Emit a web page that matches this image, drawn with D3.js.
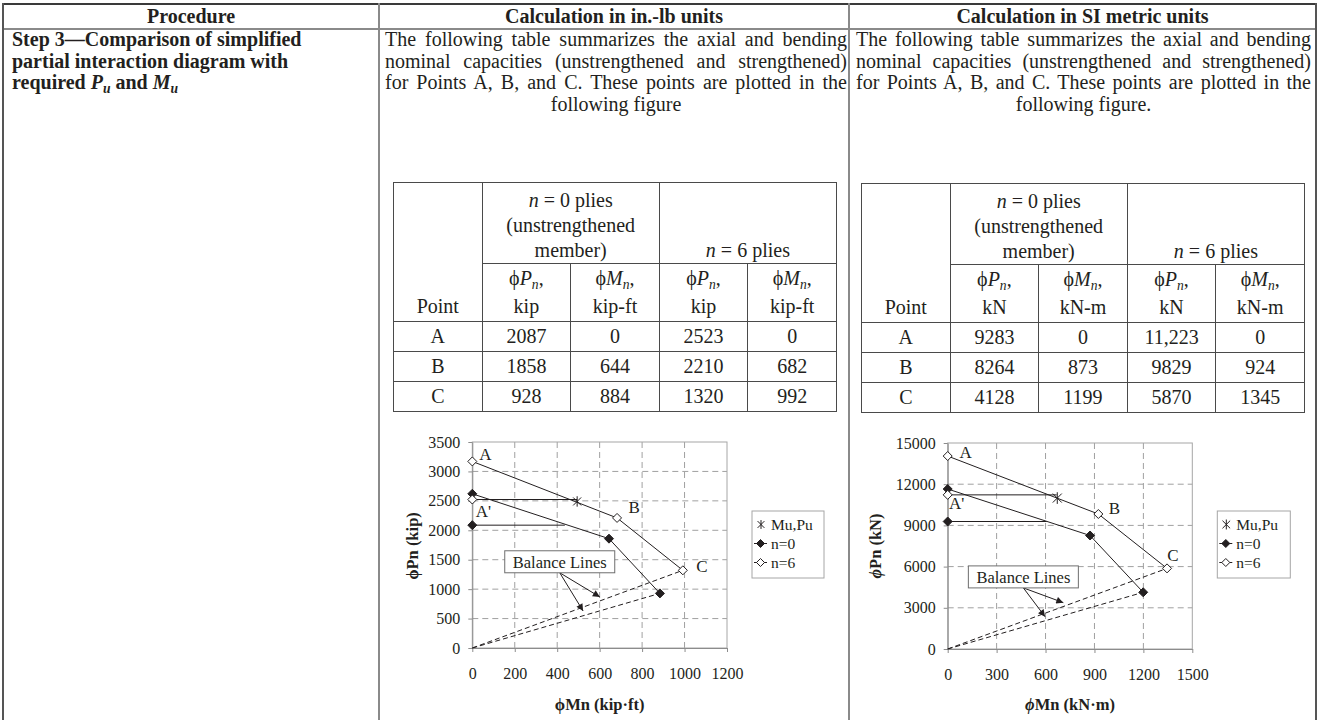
<!DOCTYPE html>
<html>
<head>
<meta charset="utf-8">
<script src="https://cdn.jsdelivr.net/npm/d3@7"></script>
<style>
  body { margin: 0; background: #fff; }
  #page {
    position: relative; width: 1324px; height: 720px; overflow: hidden;
    font-family: "Liberation Serif", "Times New Roman", serif; color: #231f20;
  }
  .abs { position: absolute; }
  .rule { position: absolute; background: #8a8a8a; }
  .head { position: absolute; top: 4px; height: 25px; line-height: 25px; font-size: 20px; font-weight: bold; text-align: center; }
  .para { position: absolute; font-size: 20px; line-height: 21.7px; white-space: nowrap; }
  .para div { text-align: justify; text-align-last: justify; }
  .para div:last-child { text-align: center; text-align-last: center; }
  .step { position: absolute; left: 12px; top: 29px; font-size: 20px; line-height: 21.7px; font-weight: bold; white-space: nowrap; }
  sub { font-size: 0.68em; vertical-align: -0.28em; line-height: 0; }
  table.dt {
    position: absolute; border-collapse: collapse; table-layout: fixed;
    font-size: 20px; text-align: center;
  }
  table.dt td { border: 1px solid #4a4a4a; padding: 0; vertical-align: bottom; white-space: nowrap; }
  table.dt tr.h1 td { height: 80px; line-height: 25px; }
  table.dt tr.h2 td { height: 56px; line-height: 28px; padding-bottom: 1px; }
  table.dt tr.d td { height: 29px; line-height: 29px; vertical-align: middle; }
  svg { position: absolute; left: 0; top: 0; }
  .grid { stroke: #a0a0a0; stroke-width: 1; stroke-dasharray: 6 4; }
</style>
</head>
<body>
<div id="page"></div>
<script>
// ---- text content ----
const headers = ["Procedure", "Calculation in in.-lb units", "Calculation in SI metric units"];
const stepLines = [
  "Step 3—Comparison of simplified",
  "partial interaction diagram with",
  "required <i>P<sub>u</sub></i> and <i>M<sub>u</sub></i>"
];
const introUS = [
  "The following table summarizes the axial and bending",
  "nominal capacities (unstrengthened and strengthened)",
  "for Points A, B, and C. These points are plotted in the",
  "following figure"
];
const introSI = [
  "The following table summarizes the axial and bending",
  "nominal capacities (unstrengthened and strengthened)",
  "for Points A, B, and C. These points are plotted in the",
  "following figure."
];

// ---- table values ----
const pointNames = ["A", "B", "C"];
const unitsUS = ["kip", "kip-ft"];
const unitsSI = ["kN", "kN-m"];
const usPn0 = [2087, 1858, 928];
const usMn0 = [0, 644, 884];
const usPn6 = [2523, 2210, 1320];
const usMn6 = [0, 682, 992];
const siPn0 = [9283, 8264, 4128];
const siMn0 = [0, 873, 1199];
const siPn6 = [11223, 9829, 5870];
const siMn6 = [0, 924, 1345];

// ---- plotted values ----
const usCurveM0 = [0, 644, 884];
const usCurveP0 = [2620, 1858, 928];
const usCurveM6 = [0, 682, 992];
const usCurveP6 = [3170, 2210, 1320];
const usCapP = [2087, 2523];      // A' level for n=0, n=6
const usCapM = [436, 494];        // where the A' cut-off line ends
const usMu = [494];
const usPu = [2490];
const usXTicks = [0, 200, 400, 600, 800, 1000, 1200];
const usYTicks = [0, 500, 1000, 1500, 2000, 2500, 3000, 3500];
const usNote = [412, 1465];
const usNoteTips = [[601, 867], [522, 629]];

const siCurveM0 = [0, 873, 1199];
const siCurveP0 = [11650, 8264, 4128];
const siCurveM6 = [0, 924, 1345];
const siCurveP6 = [14050, 9829, 5870];
const siCapP = [9283, 11223];
const siCapM = [607, 668];
const siMu = [672];
const siPu = [10990];
const siXTicks = [0, 300, 600, 900, 1200, 1500];
const siYTicks = [0, 3000, 6000, 9000, 12000, 15000];
const siNote = [464, 5250];
const siNoteTips = [[709, 3376], [597, 2355]];

const legendNames = ["Mu,Pu", "n=0", "n=6"];
const noteText = "Balance Lines";

const page = d3.select("#page");

// ---- outer procedure table ----
const outerL = 3, outerR = 1316, div1 = 379, div2 = 849;
page.append("div").attr("class", "rule").style("left", outerL + "px").style("top", "3px")
  .style("width", (outerR - outerL) + "px").style("height", "1.5px").style("background", "#3a3a3a");
page.append("div").attr("class", "rule").style("left", outerL + "px").style("top", "28px")
  .style("width", (outerR - outerL) + "px").style("height", "1.5px");
[outerL, div1, div2, outerR].forEach((x, i) => {
  page.append("div").attr("class", "rule").style("left", (x - 1) + "px").style("top", "3px")
    .style("width", "2px").style("height", "720px")
    .style("background", i === 0 || i === 3 ? "#555" : "#8a8a8a");
});
const colBounds = [[outerL, div1], [div1, div2], [div2, outerR]];
page.selectAll("div.head").data(headers).join("div").attr("class", "head")
  .style("left", (d, i) => colBounds[i][0] + "px")
  .style("width", (d, i) => (colBounds[i][1] - colBounds[i][0]) + "px")
  .text(d => d);

page.append("div").attr("class", "step").selectAll("div").data(stepLines).join("div").html(d => d);

function paragraph(lines, left, width) {
  page.append("div").attr("class", "para").style("left", left + "px").style("top", "29px")
    .style("width", width + "px")
    .selectAll("div").data(lines).join("div").text(d => d);
}
paragraph(introUS, 385, 462);
paragraph(introSI, 856, 455);

// ---- summary tables ----
function drawTable(left, top, units, pn0, mn0, pn6, mn6) {
  const fmt = v => (v >= 10000 ? d3.format(",")(v) : String(v));
  const t = page.append("table").attr("class", "dt")
    .style("left", left + "px").style("top", top + "px").style("width", "443px");
  t.append("colgroup").selectAll("col").data(d3.range(5)).join("col").style("width", "88.6px");
  const r1 = t.append("tr").attr("class", "h1");
  r1.append("td").attr("rowspan", 2)
    .style("line-height", "28px").style("padding-bottom", "1px").text("Point");
  r1.append("td").attr("colspan", 2).html("<i>n</i> = 0 plies<br>(unstrengthened<br>member)");
  r1.append("td").attr("colspan", 2).html("<i>n</i> = 6 plies");
  t.append("tr").attr("class", "h2").selectAll("td").data([0, 1, 0, 1]).join("td")
    .html(k => (k ? "ϕ<i>M<sub>n</sub></i>," : "ϕ<i>P<sub>n</sub></i>,") + "<br>" + units[k]);
  const rows = pointNames.map((p, i) => [p, fmt(pn0[i]), fmt(mn0[i]), fmt(pn6[i]), fmt(mn6[i])]);
  t.selectAll("tr.d").data(rows).join("tr").attr("class", "d")
    .selectAll("td").data(d => d).join("td").text(d => d);
}
drawTable(393, 182, unitsUS, usPn0, usMn0, usPn6, usMn6);
drawTable(861, 183, unitsSI, siPn0, siMn0, siPn6, siMn6);

// ---- charts ----
const svg = page.append("svg").attr("width", 1324).attr("height", 720);
svg.append("defs").append("marker").attr("id", "ah")
  .attr("viewBox", "0 0 10 10").attr("refX", 10).attr("refY", 5)
  .attr("markerWidth", 8).attr("markerHeight", 7).attr("markerUnits", "userSpaceOnUse")
  .attr("orient", "auto")
  .append("path").attr("d", "M0,0L10,5L0,10Z").attr("fill", "#231f20");

const diamond = r => `M0,${-r}L${r},0L0,${r}L${-r},0Z`;
const star = r => `M${-r},${-r}L${r},${r}M${-r},${r}L${r},${-r}M0,${-r * 1.3}L0,${r * 1.3}`;

function drawChart(c) {
  const x = d3.scaleLinear().domain([0, c.xTicks[c.xTicks.length - 1]]).range(c.xRange);
  const y = d3.scaleLinear().domain([0, c.yTicks[c.yTicks.length - 1]]).range(c.yRange);
  const [x0, x1] = c.xRange, [y0, y1] = c.yRange;
  const g = svg.append("g");

  g.append("g").selectAll("line").data(c.xTicks.slice(1, -1)).join("line").attr("class", "grid")
    .attr("x1", d => x(d)).attr("x2", d => x(d)).attr("y1", y0).attr("y2", y1);
  g.append("g").selectAll("line").data(c.yTicks.slice(1, -1)).join("line").attr("class", "grid")
    .attr("y1", d => y(d)).attr("y2", d => y(d)).attr("x1", x0).attr("x2", x1);
  g.append("rect").attr("x", x0).attr("y", y1).attr("width", x1 - x0).attr("height", y0 - y1)
    .attr("fill", "none").attr("stroke", "#a6a6a6");

  const styleAxis = a => {
    a.attr("font-family", "Liberation Serif, serif").attr("font-size", 16);
    a.selectAll("path, line").attr("stroke", "#8c8c8c");
    a.selectAll("text").attr("fill", "#231f20");
  };
  g.append("g").attr("transform", `translate(0,${y0})`)
    .call(d3.axisBottom(x).tickValues(c.xTicks).tickSize(4).tickSizeOuter(0).tickPadding(16).tickFormat(d3.format("d")))
    .call(styleAxis);
  g.append("g").attr("transform", `translate(${x0},0)`)
    .call(d3.axisLeft(y).tickValues(c.yTicks).tickSize(4).tickSizeOuter(0).tickPadding(8).tickFormat(d3.format("d")))
    .call(styleAxis);

  // axis titles
  g.append("text").attr("x", (x0 + x1) / 2).attr("y", 704).attr("text-anchor", "middle")
    .attr("dominant-baseline", "central").attr("font-family", "Liberation Serif, serif")
    .attr("font-size", 16.5).attr("font-weight", "bold").attr("fill", "#231f20")
    .call(t => { t.append("tspan").attr("font-style", c.phiItalic ? "italic" : "normal").text("ϕ"); t.append("tspan").text(c.xTitle); });
  g.append("text").attr("transform", `translate(${c.yTitleX},546) rotate(-90)`).attr("text-anchor", "middle")
    .attr("dominant-baseline", "central").attr("font-family", "Liberation Serif, serif")
    .attr("font-size", 16.5).attr("font-weight", "bold").attr("fill", "#231f20")
    .call(t => { t.append("tspan").attr("font-style", c.phiItalic ? "italic" : "normal").text("ϕ"); t.append("tspan").text(c.yTitle); });

  // balance lines
  const series = [{ m: c.m0, p: c.p0, filled: true }, { m: c.m6, p: c.p6, filled: false }];
  series.forEach(s => {
    const k = s.m.length - 1;
    g.append("line").attr("x1", x(0)).attr("y1", y(0)).attr("x2", x(s.m[k])).attr("y2", y(s.p[k]))
      .attr("stroke", "#231f20").attr("stroke-width", 1).attr("stroke-dasharray", "5 3");
  });
  // A' cut-off lines
  series.forEach((s, i) => {
    g.append("line").attr("x1", x(0)).attr("y1", y(c.capP[i])).attr("x2", x(c.capM[i])).attr("y2", y(c.capP[i]))
      .attr("stroke", "#231f20").attr("stroke-width", 1);
  });
  // interaction curves
  const line = d3.line().x(d => x(d[0])).y(d => y(d[1]));
  series.forEach(s => {
    g.append("path").attr("d", line(d3.zip(s.m, s.p))).attr("fill", "none")
      .attr("stroke", "#231f20").attr("stroke-width", 1);
  });
  // markers
  series.forEach((s, i) => {
    const pts = d3.zip(s.m, s.p).concat([[0, c.capP[i]]]);
    g.append("g").selectAll("path").data(pts).join("path")
      .attr("transform", d => `translate(${x(d[0])},${y(d[1])})`).attr("d", diamond(4.5))
      .attr("fill", s.filled ? "#231f20" : "#fff").attr("stroke", "#231f20").attr("stroke-width", 1);
  });
  g.append("g").selectAll("path").data(d3.zip(c.mu, c.pu)).join("path")
    .attr("transform", d => `translate(${x(d[0])},${y(d[1])})`).attr("d", star(c.starR))
    .attr("fill", "none").attr("stroke", "#231f20").attr("stroke-width", 1);

  // point labels
  const labels = [
    ["A", c.m6[0], c.p6[0], c.off.A], ["A'", 0, c.capP[1], c.off.A2],
    ["B", c.m6[1], c.p6[1], c.off.B], ["C", c.m6[2], c.p6[2], c.off.C]
  ];
  g.append("g").selectAll("text").data(labels).join("text")
    .attr("x", d => x(d[1]) + d[3][0]).attr("y", d => y(d[2]) + d[3][1])
    .attr("text-anchor", "middle").attr("dominant-baseline", "central")
    .attr("font-family", "Liberation Serif, serif").attr("font-size", 17).attr("fill", "#231f20")
    .text(d => d[0]);

  // balance lines note
  const nx = x(c.note[0]), ny = y(c.note[1]);
  g.append("g").selectAll("line").data(c.noteTips).join("line")
    .attr("x1", nx).attr("y1", ny + 11).attr("x2", d => x(d[0])).attr("y2", d => y(d[1]))
    .attr("stroke", "#231f20").attr("stroke-width", 1).attr("marker-end", "url(#ah)");
  g.append("rect").attr("x", nx - 55).attr("y", ny - 11).attr("width", 110).attr("height", 22)
    .attr("fill", "#fff").attr("stroke", "#6e6e6e");
  g.append("text").attr("x", nx).attr("y", ny + 1).attr("text-anchor", "middle")
    .attr("dominant-baseline", "central").attr("font-family", "Liberation Serif, serif")
    .attr("font-size", 16.5).attr("fill", "#231f20").text(noteText);

  // legend
  const lx = x1 + 25, ly = 511;
  const lg = g.append("g").attr("transform", `translate(${lx},${ly})`);
  lg.append("rect").attr("width", c.legendW).attr("height", 67).attr("fill", "#fff").attr("stroke", "#a6a6a6");
  const row = lg.selectAll("g").data(legendNames).join("g")
    .attr("transform", (d, i) => `translate(0,${13.5 + i * 19})`);
  row.filter((d, i) => i > 0).append("line").attr("x1", 2).attr("x2", 15)
    .attr("stroke", "#231f20").attr("stroke-width", 1);
  row.append("path")
    .attr("transform", (d, i) => `translate(${i === 0 ? 9 : 8.5},0)`)
    .attr("d", (d, i) => (i === 0 ? star(c.starR * 0.85) : diamond(4)))
    .attr("fill", (d, i) => (i === 1 ? "#231f20" : i === 2 ? "#fff" : "none"))
    .attr("stroke", "#231f20").attr("stroke-width", 1);
  row.append("text").attr("x", 19).attr("dominant-baseline", "central")
    .attr("font-family", "Liberation Serif, serif").attr("font-size", 15.5).attr("fill", "#231f20")
    .text(d => d);
}

drawChart({
  xRange: [472.3, 727], yRange: [648, 442],
  xTicks: usXTicks, yTicks: usYTicks,
  m0: usCurveM0, p0: usCurveP0, m6: usCurveM6, p6: usCurveP6,
  capP: usCapP, capM: usCapM, mu: usMu, pu: usPu,
  note: usNote, noteTips: usNoteTips,
  xTitle: "Mn (kip·ft)", yTitle: "Pn (kip)", yTitleX: 412, phiItalic: false,
  starR: 4, legendW: 72,
  off: { A: [13, -7], A2: [11, 12], B: [17, -10], C: [19, -4] }
});
drawChart({
  xRange: [947.7, 1192.3], yRange: [649, 443],
  xTicks: siXTicks, yTicks: siYTicks,
  m0: siCurveM0, p0: siCurveP0, m6: siCurveM6, p6: siCurveP6,
  capP: siCapP, capM: siCapM, mu: siMu, pu: siPu,
  note: siNote, noteTips: siNoteTips,
  xTitle: "Mn (kN·m)", yTitle: "Pn (kN)", yTitleX: 875, phiItalic: true,
  starR: 4.5, legendW: 73,
  off: { A: [18, -4], A2: [9, 9], B: [16, -6], C: [6, -13] }
});
</script>
</body>
</html>
